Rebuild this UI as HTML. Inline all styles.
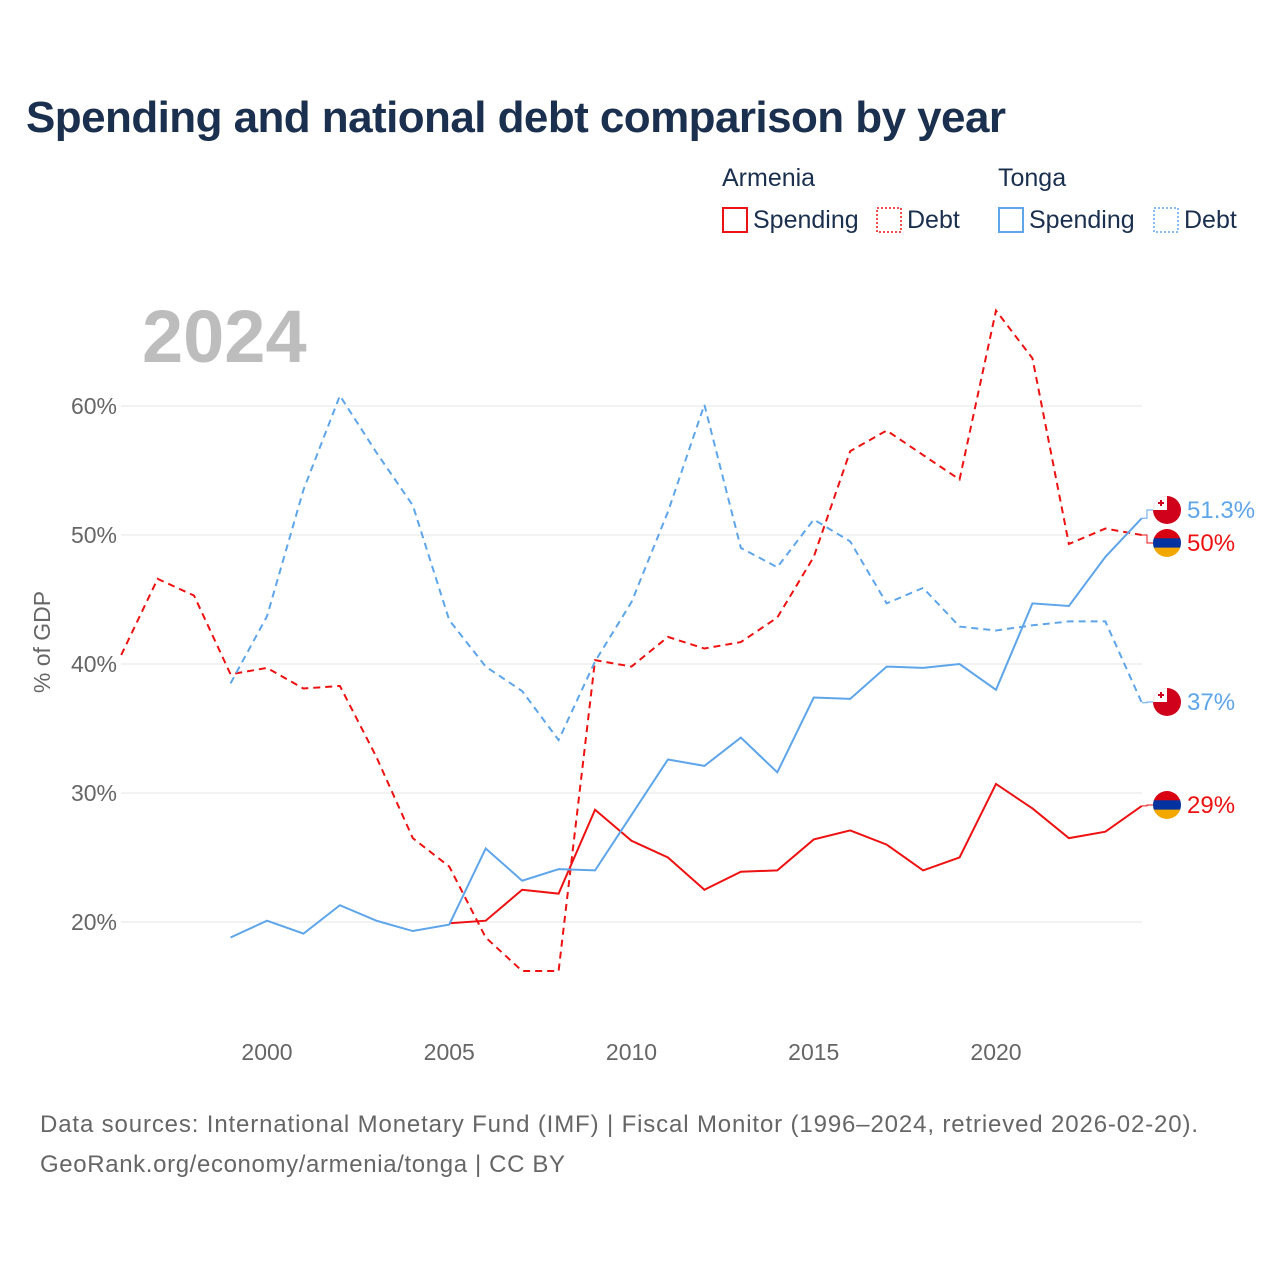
<!DOCTYPE html>
<html><head><meta charset="utf-8"><style>
body{margin:0;background:#fff;font-family:"Liberation Sans",sans-serif;}
</style></head><body>
<svg id="chart" width="1280" height="1280" xmlns="http://www.w3.org/2000/svg" style="font-family:'Liberation Sans',sans-serif">
<text x="26" y="132" font-size="44" font-weight="bold" fill="#1b2f4e" textLength="980">Spending and national debt comparison by year</text>
<g font-size="25" fill="#1b2f4e">
<text x="722" y="186">Armenia</text>
<text x="998" y="186">Tonga</text>
<rect x="723" y="208" width="24" height="24" fill="none" stroke="#ee1111" stroke-width="2"/>
<text x="753" y="228">Spending</text>
<rect x="877" y="208" width="24" height="24" fill="none" stroke="#ee1111" stroke-width="1.5" stroke-dasharray="2,2"/>
<text x="907" y="228">Debt</text>
<rect x="999" y="208" width="24" height="24" fill="none" stroke="#5ea5ea" stroke-width="2"/>
<text x="1029" y="228">Spending</text>
<rect x="1154" y="208" width="24" height="24" fill="none" stroke="#5ea5ea" stroke-width="1.5" stroke-dasharray="2,2"/>
<text x="1184" y="228">Debt</text>
</g>
<text x="142" y="362" font-size="74" font-weight="bold" fill="#bdbdbd">2024</text>
<text transform="translate(50,642) rotate(-90)" text-anchor="middle" font-size="23" fill="#666">% of GDP</text>
<g id="grid"></g><g id="series"></g><g id="ends"></g>
<text x="40" y="1132" font-size="24" fill="#666" textLength="1158">Data sources: International Monetary Fund (IMF) | Fiscal Monitor (1996–2024, retrieved 2026-02-20).</text>
<text x="40" y="1172" font-size="24" fill="#666" textLength="525">GeoRank.org/economy/armenia/tonga | CC BY</text>
</svg>
<script>
const yTicks=[20,30,40,50,60];
const xTicks=[2000,2005,2010,2015,2020];
const armYears=[1996,1997,1998,1999,2000,2001,2002,2003,2004,2005,2006,2007,2008,2009,2010,2011,2012,2013,2014,2015,2016,2017,2018,2019,2020,2021,2022,2023,2024];
const armDebt=[40.7,46.6,45.3,39.2,39.7,38.1,38.3,32.8,26.5,24.3,18.8,16.2,16.2,40.3,39.8,42.1,41.2,41.7,43.6,48.3,56.5,58.1,56.2,54.3,67.4,63.7,49.3,50.5,50];
const armSpendYears=[2005,2006,2007,2008,2009,2010,2011,2012,2013,2014,2015,2016,2017,2018,2019,2020,2021,2022,2023,2024];
const armSpend=[19.9,20.1,22.5,22.2,28.7,26.3,25,22.5,23.9,24,26.4,27.1,26,24,25,30.7,28.8,26.5,27,29];
const tonYears=[1999,2000,2001,2002,2003,2004,2005,2006,2007,2008,2009,2010,2011,2012,2013,2014,2015,2016,2017,2018,2019,2020,2021,2022,2023,2024];
const tonSpend=[18.8,20.1,19.1,21.3,20.1,19.3,19.8,25.7,23.2,24.1,24,28.3,32.6,32.1,34.3,31.6,37.4,37.3,39.8,39.7,40,38,44.7,44.5,48.3,51.3];
const tonDebt=[38.5,43.7,53.5,60.8,56.4,52.3,43.4,39.8,37.9,34.1,40.2,44.8,51.8,60.1,49,47.5,51.2,49.5,44.7,45.9,42.9,42.6,43,43.3,43.3,37];
const endLabels=["51.3%","50%","37%","29%"];
const NS="http://www.w3.org/2000/svg";
const X=yr=>267+(yr-2000)*36.45, Y=v=>922-(v-20)*12.9;
function mk(t,a,p){const e=document.createElementNS(NS,t);for(const k in a)e.setAttribute(k,a[k]);p.appendChild(e);return e;}
const grid=document.getElementById('grid');
yTicks.forEach(v=>{
 const l=mk('line',{x1:121,x2:1142,y1:Y(v),y2:Y(v),stroke:'#e6e6e6'},grid);
 
 
 const t=mk('text',{x:117,y:Y(v)+8,'text-anchor':'end','font-size':23,fill:'#666'},grid);t.textContent=v+'%';
 
 
});
xTicks.forEach(yr=>{
 const t=mk('text',{x:X(yr),y:1060,'text-anchor':'middle','font-size':23,fill:'#666'},grid);t.textContent=yr;
 
 
});
const S=document.getElementById('series');
function line(xs,vs,col,dash,name){
 const p=mk('polyline',{points:xs.map((yr,i)=>X(yr)+','+Y(vs[i])).join(' '),fill:'none',stroke:col,'stroke-width':2,'stroke-dasharray':dash||'none'},S);
 
 
}
line(armYears,armDebt,'#ee1111','7,5','armenia-debt-line');
line(armSpendYears,armSpend,'#ee1111','','armenia-spending-line');
line(tonYears,tonSpend,'#5ea5ea','','tonga-spending-line');
line(tonYears,tonDebt,'#5ea5ea','7,5','tonga-debt-line');
const E=document.getElementById('ends');
function flag(cy,country){
 const g=mk('g',{},E);
 
 
 const cx=1167,r=14;
 const cid='c'+Math.round(cy);
 const cp=mk('clipPath',{id:cid},g);mk('circle',{cx,cy,r},cp);
 const h=mk('g',{'clip-path':'url(#'+cid+')'},g);
 if(country==='tonga'){
  mk('rect',{x:cx-r,y:cy-r,width:2*r,height:2*r,fill:'#d0021b'},h);
  mk('rect',{x:cx-r,y:cy-r,width:r,height:r,fill:'#fff'},h);
  mk('rect',{x:cx-7,y:cy-10,width:2,height:6,fill:'#d0021b'},h);
  mk('rect',{x:cx-9,y:cy-8,width:6,height:2,fill:'#d0021b'},h);
 } else {
  mk('rect',{x:cx-r,y:cy-r,width:2*r,height:10,fill:'#d90012'},h);
  mk('rect',{x:cx-r,y:cy-r+9.3,width:2*r,height:10,fill:'#0033a0'},h);
  mk('rect',{x:cx-r,y:cy-r+18.6,width:2*r,height:10,fill:'#f2a800'},h);
 }
}
const ends=[[Y(tonSpend[tonSpend.length-1]),510,'#5ea5ea','tonga'],[Y(armDebt[armDebt.length-1]),543,'#ee1111','armenia'],[Y(tonDebt[tonDebt.length-1]),702,'#5ea5ea','tonga'],[Y(armSpend[armSpend.length-1]),805,'#ee1111','armenia']];
ends.forEach((e,i)=>{
 mk('polyline',{points:`1142,${e[0]} 1147,${e[0]} 1147,${e[1]} 1153,${e[1]}`,fill:'none',stroke:e[2],'stroke-width':1},E);
 flag(e[1],e[3]);
 const t=mk('text',{x:1187,y:e[1]+8,'font-size':24,fill:e[2]},E);t.textContent=endLabels[i];
 
 
});
</script>
</body></html>
